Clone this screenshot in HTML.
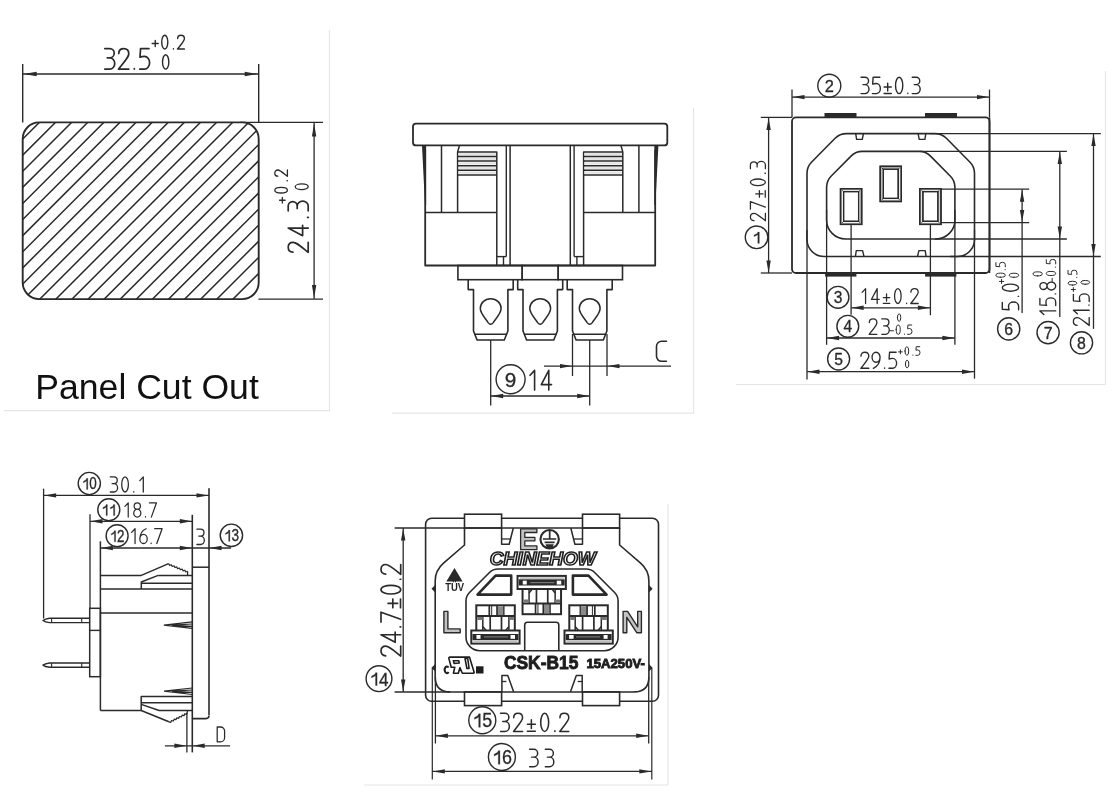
<!DOCTYPE html><html><head><meta charset="utf-8"><style>
html,body{margin:0;padding:0;background:#fff;width:1118px;height:810px;overflow:hidden}
svg{display:block;will-change:transform}
.ns path{vector-effect:non-scaling-stroke}
</style></head><body><svg width="1118" height="810" viewBox="0 0 1118 810"><line x1="329.50" y1="30.00" x2="329.50" y2="411.00" stroke="#e6e6e6" stroke-width="1.2"/>
<line x1="4.00" y1="410.70" x2="330.00" y2="410.70" stroke="#e6e6e6" stroke-width="1.2"/>
<line x1="22.70" y1="64.00" x2="22.70" y2="122.40" stroke="#2a2a2a" stroke-width="1.4"/>
<line x1="258.70" y1="64.00" x2="258.70" y2="122.40" stroke="#2a2a2a" stroke-width="1.4"/>
<line x1="22.70" y1="74.00" x2="258.70" y2="74.00" stroke="#2a2a2a" stroke-width="1.3"/>
<path d="M23.70,74.00 L36.70,71.80 L36.70,76.20 Z" fill="#2a2a2a"/>
<path d="M257.70,74.00 L244.70,76.20 L244.70,71.80 Z" fill="#2a2a2a"/>
<g transform="translate(104.40,69.10)" fill="none" stroke="#2a2a2a" stroke-width="1.70" stroke-linecap="round" stroke-linejoin="round" class="ns"><path transform="translate(0.000,-20.500) scale(20.500)" d="M0.02,0 L0.26,0 A0.22,0.225 0 0 1 0.26,0.45 L0.14,0.45 M0.26,0.45 A0.245,0.275 0 0 1 0.26,1 L0.02,1"/><path transform="translate(14.142,-20.500) scale(20.500)" d="M0.01,0.24 C0.01,0.08 0.12,0 0.25,0 C0.39,0 0.5,0.09 0.5,0.25 C0.5,0.4 0.4,0.5 0,1 L0.5,1"/><path transform="translate(28.283,-20.500) scale(20.500)" d="M0.08,0.97 L0.08,1"/><path transform="translate(34.950,-20.500) scale(20.500)" d="M0.47,0 L0.06,0 L0.03,0.42 C0.1,0.39 0.17,0.38 0.25,0.38 A0.25,0.31 0 0 1 0.25,1 L0.02,1"/></g>
<g transform="translate(152.20,49.00)" fill="none" stroke="#2a2a2a" stroke-width="1.40" stroke-linecap="round" stroke-linejoin="round" class="ns"><path transform="translate(0.000,-13.800) scale(13.800)" d="M0,0.6 L0.44,0.6 M0.22,0.38 L0.22,0.82"/><path transform="translate(9.114,-13.800) scale(13.800)" d="M0.03,0.5 A0.22,0.5 0 0 1 0.47,0.5 A0.22,0.5 0 0 1 0.03,0.5 Z"/><path transform="translate(20.114,-13.800) scale(13.800)" d="M0.08,0.97 L0.08,1"/><path transform="translate(25.300,-13.800) scale(13.800)" d="M0.01,0.24 C0.01,0.08 0.12,0 0.25,0 C0.39,0 0.5,0.09 0.5,0.25 C0.5,0.4 0.4,0.5 0,1 L0.5,1"/></g>
<g transform="translate(162.10,69.10)" fill="none" stroke="#2a2a2a" stroke-width="1.40" stroke-linecap="round" stroke-linejoin="round" class="ns"><path transform="translate(0.000,-14.300) scale(14.300)" d="M0.03,0.5 A0.22,0.5 0 0 1 0.47,0.5 A0.22,0.5 0 0 1 0.03,0.5 Z"/></g>
<clipPath id="cp1"><rect x="22.7" y="122.4" width="236.0" height="176.70000000000002" rx="16.5"/></clipPath>
<path d="M-190.60,304.10 L-3.90,117.40 M-174.50,304.10 L12.20,117.40 M-158.40,304.10 L28.30,117.40 M-142.30,304.10 L44.40,117.40 M-126.20,304.10 L60.50,117.40 M-110.10,304.10 L76.60,117.40 M-94.00,304.10 L92.70,117.40 M-77.90,304.10 L108.80,117.40 M-61.80,304.10 L124.90,117.40 M-45.70,304.10 L141.00,117.40 M-29.60,304.10 L157.10,117.40 M-13.50,304.10 L173.20,117.40 M2.60,304.10 L189.30,117.40 M18.70,304.10 L205.40,117.40 M34.80,304.10 L221.50,117.40 M50.90,304.10 L237.60,117.40 M67.00,304.10 L253.70,117.40 M83.10,304.10 L269.80,117.40 M99.20,304.10 L285.90,117.40 M115.30,304.10 L302.00,117.40 M131.40,304.10 L318.10,117.40 M147.50,304.10 L334.20,117.40 M163.60,304.10 L350.30,117.40 M179.70,304.10 L366.40,117.40 M195.80,304.10 L382.50,117.40 M211.90,304.10 L398.60,117.40 M228.00,304.10 L414.70,117.40 M244.10,304.10 L430.80,117.40 M260.20,304.10 L446.90,117.40" stroke="#2a2a2a" stroke-width="1.5" clip-path="url(#cp1)"/>
<rect x="22.70" y="122.40" width="236.00" height="176.70" rx="16.5" fill="none" stroke="#2a2a2a" stroke-width="1.9"/>
<line x1="240.00" y1="122.40" x2="323.00" y2="122.40" stroke="#2a2a2a" stroke-width="1.4"/>
<line x1="258.40" y1="299.10" x2="323.00" y2="299.10" stroke="#2a2a2a" stroke-width="1.4"/>
<line x1="314.10" y1="122.40" x2="314.10" y2="299.10" stroke="#2a2a2a" stroke-width="1.3"/>
<path d="M314.10,123.40 L316.30,136.40 L311.90,136.40 Z" fill="#2a2a2a"/>
<path d="M314.10,298.10 L311.90,285.10 L316.30,285.10 Z" fill="#2a2a2a"/>
<g transform="translate(308.20,252.30) rotate(-90) translate(0.00,0.00)" fill="none" stroke="#2a2a2a" stroke-width="1.70" stroke-linecap="round" stroke-linejoin="round" class="ns"><path transform="translate(0.000,-20.000) scale(20.000)" d="M0.01,0.24 C0.01,0.08 0.12,0 0.25,0 C0.39,0 0.5,0.09 0.5,0.25 C0.5,0.4 0.4,0.5 0,1 L0.5,1"/><path transform="translate(16.630,-20.000) scale(20.000)" d="M0.38,1 L0.38,0 L0,0.72 L0.52,0.72"/><path transform="translate(33.260,-20.000) scale(20.000)" d="M0.08,0.97 L0.08,1"/><path transform="translate(41.100,-20.000) scale(20.000)" d="M0.02,0 L0.26,0 A0.22,0.225 0 0 1 0.26,0.45 L0.14,0.45 M0.26,0.45 A0.245,0.275 0 0 1 0.26,1 L0.02,1"/></g>
<g transform="translate(287.40,203.00) rotate(-90) translate(0.00,0.00)" fill="none" stroke="#2a2a2a" stroke-width="1.30" stroke-linecap="round" stroke-linejoin="round" class="ns"><path transform="translate(0.000,-12.600) scale(12.600)" d="M0,0.6 L0.44,0.6 M0.22,0.38 L0.22,0.82"/><path transform="translate(9.619,-12.600) scale(12.600)" d="M0.03,0.5 A0.22,0.5 0 0 1 0.47,0.5 A0.22,0.5 0 0 1 0.03,0.5 Z"/><path transform="translate(21.227,-12.600) scale(12.600)" d="M0.08,0.97 L0.08,1"/><path transform="translate(26.700,-12.600) scale(12.600)" d="M0.01,0.24 C0.01,0.08 0.12,0 0.25,0 C0.39,0 0.5,0.09 0.5,0.25 C0.5,0.4 0.4,0.5 0,1 L0.5,1"/></g>
<g transform="translate(308.20,190.00) rotate(-90) translate(0.00,0.00)" fill="none" stroke="#2a2a2a" stroke-width="1.30" stroke-linecap="round" stroke-linejoin="round" class="ns"><path transform="translate(0.000,-13.000) scale(13.000)" d="M0.03,0.5 A0.22,0.5 0 0 1 0.47,0.5 A0.22,0.5 0 0 1 0.03,0.5 Z"/></g>
<text x="35.3" y="398.6" font-family="Liberation Sans" font-size="35.6" fill="#111">Panel Cut Out</text>
<line x1="693.60" y1="108.00" x2="693.60" y2="413.20" stroke="#e6e6e6" stroke-width="1.2"/>
<line x1="392.00" y1="413.20" x2="693.60" y2="413.20" stroke="#e6e6e6" stroke-width="1.2"/>
<rect x="413.00" y="123.60" width="254.30" height="21.80" rx="3" fill="none" stroke="#2a2a2a" stroke-width="1.8"/>
<path d="M425.20,150.00 L425.20,265.50 L655.20,265.50 L655.20,150.00" fill="none" stroke="#2a2a2a" stroke-width="1.8" stroke-linejoin="round"/>
<path d="M422.0,145.4 L426.1,145.4 L426.1,205 L425.0,205 Z" fill="#2a2a2a"/>
<path d="M658.40,145.4 L654.30,145.4 L654.30,205 L655.40,205 Z" fill="#2a2a2a"/>
<line x1="441.50" y1="145.40" x2="441.50" y2="212.50" stroke="#2a2a2a" stroke-width="1.5"/>
<path d="M459.50,145.4 L457.60,152 L457.60,212.5" fill="none" stroke="#2a2a2a" stroke-width="1.5" stroke-linejoin="round"/>
<line x1="425.20" y1="212.50" x2="496.80" y2="212.50" stroke="#2a2a2a" stroke-width="1.5"/>
<path d="M457.60,151.90 L496.80,151.90 L496.80,265.50" fill="none" stroke="#2a2a2a" stroke-width="1.5" stroke-linejoin="round"/>
<line x1="458.50" y1="154.20" x2="496.00" y2="154.20" stroke="#e4e4e4" stroke-width="2.4"/>
<line x1="458.50" y1="158.80" x2="496.00" y2="158.80" stroke="#e4e4e4" stroke-width="2.4"/>
<line x1="458.50" y1="163.40" x2="496.00" y2="163.40" stroke="#e4e4e4" stroke-width="2.4"/>
<line x1="458.50" y1="168.00" x2="496.00" y2="168.00" stroke="#e4e4e4" stroke-width="2.4"/>
<line x1="458.50" y1="172.60" x2="496.00" y2="172.60" stroke="#e4e4e4" stroke-width="2.4"/>
<line x1="457.60" y1="156.50" x2="496.80" y2="156.50" stroke="#2a2a2a" stroke-width="1.5"/>
<line x1="457.60" y1="161.10" x2="496.80" y2="161.10" stroke="#2a2a2a" stroke-width="1.5"/>
<line x1="457.60" y1="165.70" x2="496.80" y2="165.70" stroke="#2a2a2a" stroke-width="1.5"/>
<line x1="457.60" y1="170.30" x2="496.80" y2="170.30" stroke="#2a2a2a" stroke-width="1.5"/>
<line x1="457.60" y1="175.00" x2="496.80" y2="175.00" stroke="#2a2a2a" stroke-width="1.5"/>
<path d="M496.80,256.60 L506.30,256.60" fill="none" stroke="#2a2a2a" stroke-width="1.4" stroke-linejoin="round"/>
<line x1="503.50" y1="256.60" x2="503.50" y2="265.50" stroke="#2a2a2a" stroke-width="1.4"/>
<line x1="506.30" y1="145.40" x2="506.30" y2="256.60" stroke="#2a2a2a" stroke-width="1.4"/>
<line x1="510.10" y1="145.40" x2="510.10" y2="265.50" stroke="#2a2a2a" stroke-width="1.5"/>
<line x1="638.90" y1="145.40" x2="638.90" y2="212.50" stroke="#2a2a2a" stroke-width="1.5"/>
<path d="M620.90,145.4 L622.80,152 L622.80,212.5" fill="none" stroke="#2a2a2a" stroke-width="1.5" stroke-linejoin="round"/>
<line x1="655.20" y1="212.50" x2="583.60" y2="212.50" stroke="#2a2a2a" stroke-width="1.5"/>
<path d="M622.80,151.90 L583.60,151.90 L583.60,265.50" fill="none" stroke="#2a2a2a" stroke-width="1.5" stroke-linejoin="round"/>
<line x1="621.90" y1="154.20" x2="584.40" y2="154.20" stroke="#e4e4e4" stroke-width="2.4"/>
<line x1="621.90" y1="158.80" x2="584.40" y2="158.80" stroke="#e4e4e4" stroke-width="2.4"/>
<line x1="621.90" y1="163.40" x2="584.40" y2="163.40" stroke="#e4e4e4" stroke-width="2.4"/>
<line x1="621.90" y1="168.00" x2="584.40" y2="168.00" stroke="#e4e4e4" stroke-width="2.4"/>
<line x1="621.90" y1="172.60" x2="584.40" y2="172.60" stroke="#e4e4e4" stroke-width="2.4"/>
<line x1="622.80" y1="156.50" x2="583.60" y2="156.50" stroke="#2a2a2a" stroke-width="1.5"/>
<line x1="622.80" y1="161.10" x2="583.60" y2="161.10" stroke="#2a2a2a" stroke-width="1.5"/>
<line x1="622.80" y1="165.70" x2="583.60" y2="165.70" stroke="#2a2a2a" stroke-width="1.5"/>
<line x1="622.80" y1="170.30" x2="583.60" y2="170.30" stroke="#2a2a2a" stroke-width="1.5"/>
<line x1="622.80" y1="175.00" x2="583.60" y2="175.00" stroke="#2a2a2a" stroke-width="1.5"/>
<path d="M583.60,256.60 L574.10,256.60" fill="none" stroke="#2a2a2a" stroke-width="1.4" stroke-linejoin="round"/>
<line x1="576.90" y1="256.60" x2="576.90" y2="265.50" stroke="#2a2a2a" stroke-width="1.4"/>
<line x1="574.10" y1="145.40" x2="574.10" y2="256.60" stroke="#2a2a2a" stroke-width="1.4"/>
<line x1="570.30" y1="145.40" x2="570.30" y2="265.50" stroke="#2a2a2a" stroke-width="1.5"/>
<rect x="457.90" y="265.50" width="64.30" height="14.20" rx="0" fill="none" stroke="#2a2a2a" stroke-width="1.6"/>
<rect x="522.20" y="265.50" width="36.00" height="14.20" rx="0" fill="none" stroke="#2a2a2a" stroke-width="1.6"/>
<rect x="558.20" y="265.50" width="64.30" height="14.20" rx="0" fill="none" stroke="#2a2a2a" stroke-width="1.6"/>
<path d="M468.20,279.70 L468.20,289.60 L473.50,289.60 L473.50,331.00 L477.10,340.00 L504.30,340.00 L507.90,331.00 L507.90,289.60 L513.20,289.60 L513.20,279.70" fill="none" stroke="#2a2a2a" stroke-width="1.6" stroke-linejoin="round"/>
<line x1="474.50" y1="334.30" x2="506.90" y2="334.30" stroke="#2a2a2a" stroke-width="1.4"/>
<path d="M490.70,298.8 C496.70,298.8 501.10,303 501.10,308.6 C501.10,313.5 495.90,318.5 493.30,322.6 Q490.70,325.8 488.10,322.6 C485.50,318.5 480.30,313.5 480.30,308.6 C480.30,303 484.70,298.8 490.70,298.8 Z" fill="none" stroke="#2a2a2a" stroke-width="1.5" stroke-linejoin="round"/>
<path d="M517.70,279.70 L517.70,289.60 L523.00,289.60 L523.00,331.00 L526.60,340.00 L553.80,340.00 L557.40,331.00 L557.40,289.60 L562.70,289.60 L562.70,279.70" fill="none" stroke="#2a2a2a" stroke-width="1.6" stroke-linejoin="round"/>
<line x1="524.00" y1="334.30" x2="556.40" y2="334.30" stroke="#2a2a2a" stroke-width="1.4"/>
<path d="M540.20,298.8 C546.20,298.8 550.60,303 550.60,308.6 C550.60,313.5 545.40,318.5 542.80,322.6 Q540.20,325.8 537.60,322.6 C535.00,318.5 529.80,313.5 529.80,308.6 C529.80,303 534.20,298.8 540.20,298.8 Z" fill="none" stroke="#2a2a2a" stroke-width="1.5" stroke-linejoin="round"/>
<path d="M567.20,279.70 L567.20,289.60 L572.50,289.60 L572.50,331.00 L576.10,340.00 L603.30,340.00 L606.90,331.00 L606.90,289.60 L612.20,289.60 L612.20,279.70" fill="none" stroke="#2a2a2a" stroke-width="1.6" stroke-linejoin="round"/>
<line x1="573.50" y1="334.30" x2="605.90" y2="334.30" stroke="#2a2a2a" stroke-width="1.4"/>
<path d="M589.70,298.8 C595.70,298.8 600.10,303 600.10,308.6 C600.10,313.5 594.90,318.5 592.30,322.6 Q589.70,325.8 587.10,322.6 C584.50,318.5 579.30,313.5 579.30,308.6 C579.30,303 583.70,298.8 589.70,298.8 Z" fill="none" stroke="#2a2a2a" stroke-width="1.5" stroke-linejoin="round"/>
<line x1="490.70" y1="340.00" x2="490.70" y2="405.40" stroke="#2a2a2a" stroke-width="1.3"/>
<line x1="589.70" y1="340.00" x2="589.70" y2="405.40" stroke="#2a2a2a" stroke-width="1.3"/>
<line x1="490.70" y1="396.00" x2="589.70" y2="396.00" stroke="#2a2a2a" stroke-width="1.3"/>
<path d="M491.20,396.00 L503.20,393.80 L503.20,398.20 Z" fill="#2a2a2a"/>
<path d="M589.20,396.00 L577.20,398.20 L577.20,393.80 Z" fill="#2a2a2a"/>
<circle cx="510.60" cy="379.30" r="14.50" fill="none" stroke="#2a2a2a" stroke-width="1.4"/>
<text x="0" y="0" transform="translate(510.60,386.96) scale(1.0,1)" font-family="Liberation Sans" font-size="20.73" text-anchor="middle" fill="#2a2a2a" stroke="#2a2a2a" stroke-width="0.3">9</text>
<g transform="translate(527.50,390.10)" fill="none" stroke="#2a2a2a" stroke-width="1.60" stroke-linecap="round" stroke-linejoin="round" class="ns"><path transform="translate(0.000,-19.700) scale(19.700)" d="M0.13,0.25 L0.36,0 L0.36,1"/><path transform="translate(13.790,-19.700) scale(19.700)" d="M0.38,1 L0.38,0 L0,0.72 L0.52,0.72"/></g>
<line x1="572.50" y1="334.00" x2="572.50" y2="376.00" stroke="#2a2a2a" stroke-width="1.3"/>
<line x1="607.00" y1="334.00" x2="607.00" y2="376.00" stroke="#2a2a2a" stroke-width="1.3"/>
<line x1="544.00" y1="366.10" x2="671.00" y2="366.10" stroke="#2a2a2a" stroke-width="1.3"/>
<path d="M572.00,366.10 L560.00,368.30 L560.00,363.90 Z" fill="#2a2a2a"/>
<path d="M607.50,366.10 L619.50,363.90 L619.50,368.30 Z" fill="#2a2a2a"/>
<g transform="translate(656.50,361.30)" fill="none" stroke="#2a2a2a" stroke-width="1.60" stroke-linecap="round" stroke-linejoin="round" class="ns"><path transform="translate(0.000,-20.000) scale(20.000)" d="M0.5,0 L0.25,0 A0.25,0.25 0 0 0 0,0.25 L0,0.75 A0.25,0.25 0 0 0 0.25,1 L0.5,1"/></g>
<line x1="1105.50" y1="71.00" x2="1105.50" y2="384.50" stroke="#e6e6e6" stroke-width="1.2"/>
<line x1="736.00" y1="384.50" x2="1105.50" y2="384.50" stroke="#e6e6e6" stroke-width="1.2"/>
<rect x="792.00" y="117.40" width="197.50" height="155.60" rx="4" fill="none" stroke="#2a2a2a" stroke-width="1.8"/>
<rect x="824.5" y="113" width="32.0" height="4.4" fill="#2a2a2a"/>
<rect x="925.00" y="113" width="32.0" height="4.4" fill="#2a2a2a"/>
<rect x="825.1" y="273" width="31.3" height="3.6" fill="#2a2a2a"/>
<rect x="925.10" y="273" width="31.3" height="3.6" fill="#2a2a2a"/>
<path d="M846.43,133.6 L935.07,133.6 Q941.70,133.6 946.39,138.29 L969.81,162.01 Q974.5,166.7 974.5,173.33 L974.5,239.50 A17,17 0 0 1 957.50,256.5 L824.00,256.5 A17,17 0 0 1 807.0,239.50 L807.0,173.33 Q807.0,166.7 811.69,162.01 L835.11,138.29 Q839.8,133.6 846.43,133.6 Z" fill="none" stroke="#2a2a2a" stroke-width="1.6" stroke-linejoin="round"/>
<path d="M862.33,151.4 L919.17,151.4 Q925.80,151.4 930.49,156.09 L950.21,176.01 Q954.9,180.7 954.9,187.33 L954.9,220.00 A19,19 0 0 1 935.90,239.0 L845.60,239.0 A19,19 0 0 1 826.6,220.00 L826.6,187.33 Q826.6,180.7 831.29,176.01 L851.01,156.09 Q855.7,151.4 862.33,151.4 Z" fill="none" stroke="#2a2a2a" stroke-width="1.6" stroke-linejoin="round"/>
<path d="M855.70,133.60 L856.60,139.40 L862.30,139.40 L863.40,133.60" fill="none" stroke="#2a2a2a" stroke-width="1.4" stroke-linejoin="round"/>
<path d="M855.40,256.50 L856.30,250.60 L862.60,250.60 L864.00,256.50" fill="none" stroke="#2a2a2a" stroke-width="1.4" stroke-linejoin="round"/>
<path d="M925.80,133.60 L924.90,139.40 L919.20,139.40 L918.10,133.60" fill="none" stroke="#2a2a2a" stroke-width="1.4" stroke-linejoin="round"/>
<path d="M926.10,256.50 L925.20,250.60 L918.90,250.60 L917.50,256.50" fill="none" stroke="#2a2a2a" stroke-width="1.4" stroke-linejoin="round"/>
<rect x="840.60" y="188.80" width="21.00" height="35.50" rx="0" fill="none" stroke="#2a2a2a" stroke-width="1.6"/>
<rect x="843.60" y="191.60" width="15.00" height="29.70" rx="0" fill="none" stroke="#2a2a2a" stroke-width="1.3"/>
<line x1="840.60" y1="188.80" x2="843.60" y2="191.60" stroke="#2a2a2a" stroke-width="1.0"/>
<line x1="861.60" y1="188.80" x2="858.60" y2="191.60" stroke="#2a2a2a" stroke-width="1.0"/>
<line x1="840.60" y1="224.30" x2="843.60" y2="221.30" stroke="#2a2a2a" stroke-width="1.0"/>
<line x1="861.60" y1="224.30" x2="858.60" y2="221.30" stroke="#2a2a2a" stroke-width="1.0"/>
<rect x="841.40" y="189.60" width="19.40" height="33.90" fill="none" stroke="#bbb" stroke-width="1.4"/>
<rect x="840.60" y="188.80" width="21.00" height="35.50" rx="0" fill="none" stroke="#2a2a2a" stroke-width="1.5"/>
<rect x="843.60" y="191.60" width="15.00" height="29.70" rx="0" fill="none" stroke="#2a2a2a" stroke-width="1.2"/>
<rect x="919.90" y="188.80" width="21.00" height="35.50" rx="0" fill="none" stroke="#2a2a2a" stroke-width="1.6"/>
<rect x="922.90" y="191.60" width="15.00" height="29.70" rx="0" fill="none" stroke="#2a2a2a" stroke-width="1.3"/>
<line x1="919.90" y1="188.80" x2="922.90" y2="191.60" stroke="#2a2a2a" stroke-width="1.0"/>
<line x1="940.90" y1="188.80" x2="937.90" y2="191.60" stroke="#2a2a2a" stroke-width="1.0"/>
<line x1="919.90" y1="224.30" x2="922.90" y2="221.30" stroke="#2a2a2a" stroke-width="1.0"/>
<line x1="940.90" y1="224.30" x2="937.90" y2="221.30" stroke="#2a2a2a" stroke-width="1.0"/>
<rect x="920.70" y="189.60" width="19.40" height="33.90" fill="none" stroke="#bbb" stroke-width="1.4"/>
<rect x="919.90" y="188.80" width="21.00" height="35.50" rx="0" fill="none" stroke="#2a2a2a" stroke-width="1.5"/>
<rect x="922.90" y="191.60" width="15.00" height="29.70" rx="0" fill="none" stroke="#2a2a2a" stroke-width="1.2"/>
<rect x="880.30" y="166.40" width="20.90" height="35.00" rx="0" fill="none" stroke="#2a2a2a" stroke-width="1.6"/>
<rect x="883.30" y="169.20" width="14.90" height="29.20" rx="0" fill="none" stroke="#2a2a2a" stroke-width="1.3"/>
<line x1="880.30" y1="166.40" x2="883.30" y2="169.20" stroke="#2a2a2a" stroke-width="1.0"/>
<line x1="901.20" y1="166.40" x2="898.20" y2="169.20" stroke="#2a2a2a" stroke-width="1.0"/>
<line x1="880.30" y1="201.40" x2="883.30" y2="198.40" stroke="#2a2a2a" stroke-width="1.0"/>
<line x1="901.20" y1="201.40" x2="898.20" y2="198.40" stroke="#2a2a2a" stroke-width="1.0"/>
<rect x="881.10" y="167.20" width="19.30" height="33.40" fill="none" stroke="#bbb" stroke-width="1.4"/>
<rect x="880.30" y="166.40" width="20.90" height="35.00" rx="0" fill="none" stroke="#2a2a2a" stroke-width="1.5"/>
<rect x="883.30" y="169.20" width="14.90" height="29.20" rx="0" fill="none" stroke="#2a2a2a" stroke-width="1.2"/>
<line x1="792.00" y1="89.60" x2="792.00" y2="117.40" stroke="#2a2a2a" stroke-width="1.3"/>
<line x1="989.50" y1="89.60" x2="989.50" y2="117.40" stroke="#2a2a2a" stroke-width="1.3"/>
<line x1="792.00" y1="97.10" x2="989.50" y2="97.10" stroke="#2a2a2a" stroke-width="1.3"/>
<path d="M792.50,97.10 L804.50,94.90 L804.50,99.30 Z" fill="#2a2a2a"/>
<path d="M989.00,97.10 L977.00,99.30 L977.00,94.90 Z" fill="#2a2a2a"/>
<circle cx="829.30" cy="85.70" r="11.50" fill="none" stroke="#2a2a2a" stroke-width="1.4"/>
<text x="0" y="0" transform="translate(829.30,91.86) scale(1.0,1)" font-family="Liberation Sans" font-size="16.45" text-anchor="middle" fill="#2a2a2a" stroke="#2a2a2a" stroke-width="0.3">2</text>
<g transform="translate(860.70,93.60)" fill="none" stroke="#2a2a2a" stroke-width="1.39" stroke-linecap="round" stroke-linejoin="round" class="ns"><path transform="translate(0.000,-16.400) scale(16.400)" d="M0.02,0 L0.26,0 A0.22,0.225 0 0 1 0.26,0.45 L0.14,0.45 M0.26,0.45 A0.245,0.275 0 0 1 0.26,1 L0.02,1"/><path transform="translate(11.450,-16.400) scale(16.400)" d="M0.47,0 L0.06,0 L0.03,0.42 C0.1,0.39 0.17,0.38 0.25,0.38 A0.25,0.31 0 0 1 0.25,1 L0.02,1"/><path transform="translate(22.901,-16.400) scale(16.400)" d="M0.03,0.6 L0.47,0.6 M0.25,0.36 L0.25,0.84 M0.03,0.99 L0.47,0.99"/><path transform="translate(34.351,-16.400) scale(16.400)" d="M0.03,0.5 A0.22,0.5 0 0 1 0.47,0.5 A0.22,0.5 0 0 1 0.03,0.5 Z"/><path transform="translate(45.802,-16.400) scale(16.400)" d="M0.08,0.97 L0.08,1"/><path transform="translate(51.200,-16.400) scale(16.400)" d="M0.02,0 L0.26,0 A0.22,0.225 0 0 1 0.26,0.45 L0.14,0.45 M0.26,0.45 A0.245,0.275 0 0 1 0.26,1 L0.02,1"/></g>
<line x1="760.80" y1="117.40" x2="792.00" y2="117.40" stroke="#2a2a2a" stroke-width="1.3"/>
<line x1="760.80" y1="273.00" x2="792.00" y2="273.00" stroke="#2a2a2a" stroke-width="1.3"/>
<line x1="768.60" y1="117.40" x2="768.60" y2="273.00" stroke="#2a2a2a" stroke-width="1.3"/>
<path d="M768.60,117.90 L770.80,129.90 L766.40,129.90 Z" fill="#2a2a2a"/>
<path d="M768.60,272.50 L766.40,260.50 L770.80,260.50 Z" fill="#2a2a2a"/>
<g transform="translate(765.40,220.80) rotate(-90) translate(0.00,0.00)" fill="none" stroke="#2a2a2a" stroke-width="1.28" stroke-linecap="round" stroke-linejoin="round" class="ns"><path transform="translate(0.000,-15.000) scale(15.000)" d="M0.01,0.24 C0.01,0.08 0.12,0 0.25,0 C0.39,0 0.5,0.09 0.5,0.25 C0.5,0.4 0.4,0.5 0,1 L0.5,1"/><path transform="translate(11.585,-15.000) scale(15.000)" d="M0,0 L0.5,0 L0.14,1"/><path transform="translate(23.169,-15.000) scale(15.000)" d="M0.03,0.6 L0.47,0.6 M0.25,0.36 L0.25,0.84 M0.03,0.99 L0.47,0.99"/><path transform="translate(34.754,-15.000) scale(15.000)" d="M0.03,0.5 A0.22,0.5 0 0 1 0.47,0.5 A0.22,0.5 0 0 1 0.03,0.5 Z"/><path transform="translate(46.339,-15.000) scale(15.000)" d="M0.08,0.97 L0.08,1"/><path transform="translate(51.800,-15.000) scale(15.000)" d="M0.02,0 L0.26,0 A0.22,0.225 0 0 1 0.26,0.45 L0.14,0.45 M0.26,0.45 A0.245,0.275 0 0 1 0.26,1 L0.02,1"/></g>
<circle cx="756.60" cy="237.30" r="11.30" fill="none" stroke="#2a2a2a" stroke-width="1.4"/>
<path d="M757.84,232.04 L759.30,232.04 L759.30,243.36 L757.84,243.36 L757.84,234.47 L756.96,235.28 L754.05,236.57 L754.05,235.11 L756.96,233.66 L757.60,232.69 Z" fill="#2a2a2a" stroke="#2a2a2a" stroke-width="0.3"/>
<line x1="930.00" y1="133.60" x2="1100.80" y2="133.60" stroke="#2a2a2a" stroke-width="1.3"/>
<line x1="920.00" y1="151.40" x2="1066.90" y2="151.40" stroke="#2a2a2a" stroke-width="1.3"/>
<line x1="940.90" y1="189.20" x2="1029.20" y2="189.20" stroke="#2a2a2a" stroke-width="1.3"/>
<line x1="940.90" y1="222.60" x2="1029.20" y2="222.60" stroke="#2a2a2a" stroke-width="1.3"/>
<line x1="935.00" y1="239.00" x2="1066.90" y2="239.00" stroke="#2a2a2a" stroke-width="1.3"/>
<line x1="950.00" y1="256.50" x2="1100.80" y2="256.50" stroke="#2a2a2a" stroke-width="1.3"/>
<line x1="989.50" y1="117.40" x2="989.50" y2="273.00" stroke="#2a2a2a" stroke-width="1.6"/>
<line x1="1022.10" y1="189.20" x2="1022.10" y2="313.10" stroke="#2a2a2a" stroke-width="1.3"/>
<path d="M1022.10,189.70 L1024.30,201.70 L1019.90,201.70 Z" fill="#2a2a2a"/>
<path d="M1022.10,222.10 L1019.90,210.10 L1024.30,210.10 Z" fill="#2a2a2a"/>
<line x1="1059.80" y1="151.40" x2="1059.80" y2="316.90" stroke="#2a2a2a" stroke-width="1.3"/>
<path d="M1059.80,151.90 L1062.00,163.90 L1057.60,163.90 Z" fill="#2a2a2a"/>
<path d="M1059.80,238.50 L1057.60,226.50 L1062.00,226.50 Z" fill="#2a2a2a"/>
<line x1="1093.50" y1="133.60" x2="1093.50" y2="328.90" stroke="#2a2a2a" stroke-width="1.3"/>
<path d="M1093.50,134.10 L1095.70,146.10 L1091.30,146.10 Z" fill="#2a2a2a"/>
<path d="M1093.50,256.00 L1091.30,244.00 L1095.70,244.00 Z" fill="#2a2a2a"/>
<circle cx="1008.70" cy="328.90" r="11.10" fill="none" stroke="#2a2a2a" stroke-width="1.4"/>
<text x="0" y="0" transform="translate(1008.70,334.86) scale(1.0,1)" font-family="Liberation Sans" font-size="15.87" text-anchor="middle" fill="#2a2a2a" stroke="#2a2a2a" stroke-width="0.3">6</text>
<g transform="translate(1018.60,310.20) rotate(-90) translate(0.00,0.00)" fill="none" stroke="#2a2a2a" stroke-width="1.39" stroke-linecap="round" stroke-linejoin="round" class="ns"><path transform="translate(0.000,-16.300) scale(16.300)" d="M0.47,0 L0.06,0 L0.03,0.42 C0.1,0.39 0.17,0.38 0.25,0.38 A0.25,0.31 0 0 1 0.25,1 L0.02,1"/><path transform="translate(12.539,-16.300) scale(16.300)" d="M0.08,0.97 L0.08,1"/><path transform="translate(18.450,-16.300) scale(16.300)" d="M0.03,0.5 A0.22,0.5 0 0 1 0.47,0.5 A0.22,0.5 0 0 1 0.03,0.5 Z"/></g>
<g transform="translate(1005.30,283.50) rotate(-90) translate(0.00,0.00)" fill="none" stroke="#2a2a2a" stroke-width="1.00" stroke-linecap="round" stroke-linejoin="round" class="ns"><path transform="translate(0.000,-9.400) scale(9.400)" d="M0,0.6 L0.44,0.6 M0.22,0.38 L0.22,0.82"/><path transform="translate(5.944,-9.400) scale(9.400)" d="M0.03,0.5 A0.22,0.5 0 0 1 0.47,0.5 A0.22,0.5 0 0 1 0.03,0.5 Z"/><path transform="translate(13.118,-9.400) scale(9.400)" d="M0.08,0.97 L0.08,1"/><path transform="translate(16.500,-9.400) scale(9.400)" d="M0.47,0 L0.06,0 L0.03,0.42 C0.1,0.39 0.17,0.38 0.25,0.38 A0.25,0.31 0 0 1 0.25,1 L0.02,1"/></g>
<g transform="translate(1018.60,277.60) rotate(-90) translate(0.00,0.00)" fill="none" stroke="#2a2a2a" stroke-width="1.00" stroke-linecap="round" stroke-linejoin="round" class="ns"><path transform="translate(0.000,-9.300) scale(9.300)" d="M0.03,0.5 A0.22,0.5 0 0 1 0.47,0.5 A0.22,0.5 0 0 1 0.03,0.5 Z"/></g>
<g transform="translate(1055.70,314.70) rotate(-90) translate(-1.90,0.00)" fill="none" stroke="#2a2a2a" stroke-width="1.34" stroke-linecap="round" stroke-linejoin="round" class="ns"><path transform="translate(0.000,-15.800) scale(15.800)" d="M0.13,0.25 L0.36,0 L0.36,1"/><path transform="translate(10.761,-15.800) scale(15.800)" d="M0.47,0 L0.06,0 L0.03,0.42 C0.1,0.39 0.17,0.38 0.25,0.38 A0.25,0.31 0 0 1 0.25,1 L0.02,1"/><path transform="translate(21.523,-15.800) scale(15.800)" d="M0.08,0.97 L0.08,1"/><path transform="translate(26.596,-15.800) scale(15.800)" d="M0.25,0.45 A0.22,0.225 0 1 1 0.25,0 A0.22,0.225 0 1 1 0.25,0.45 A0.25,0.275 0 1 1 0.25,1 A0.25,0.275 0 1 1 0.25,0.45 Z"/></g>
<g transform="translate(1055.70,282.10) rotate(-90) translate(0.00,0.00)" fill="none" stroke="#2a2a2a" stroke-width="1.00" stroke-linecap="round" stroke-linejoin="round" class="ns"><path transform="translate(0.000,-9.400) scale(9.400)" d="M0,0.62 L0.4,0.62"/><path transform="translate(6.266,-9.400) scale(9.400)" d="M0.03,0.5 A0.22,0.5 0 0 1 0.47,0.5 A0.22,0.5 0 0 1 0.03,0.5 Z"/><path transform="translate(14.241,-9.400) scale(9.400)" d="M0.08,0.97 L0.08,1"/><path transform="translate(18.000,-9.400) scale(9.400)" d="M0.47,0 L0.06,0 L0.03,0.42 C0.1,0.39 0.17,0.38 0.25,0.38 A0.25,0.31 0 0 1 0.25,1 L0.02,1"/></g>
<g transform="translate(1042.30,276.20) rotate(-90) translate(0.00,0.00)" fill="none" stroke="#2a2a2a" stroke-width="1.00" stroke-linecap="round" stroke-linejoin="round" class="ns"><path transform="translate(0.000,-9.300) scale(9.300)" d="M0.03,0.5 A0.22,0.5 0 0 1 0.47,0.5 A0.22,0.5 0 0 1 0.03,0.5 Z"/></g>
<g transform="translate(1089.20,325.50) rotate(-90) translate(0.00,0.00)" fill="none" stroke="#2a2a2a" stroke-width="1.34" stroke-linecap="round" stroke-linejoin="round" class="ns"><path transform="translate(0.000,-15.800) scale(15.800)" d="M0.01,0.24 C0.01,0.08 0.12,0 0.25,0 C0.39,0 0.5,0.09 0.5,0.25 C0.5,0.4 0.4,0.5 0,1 L0.5,1"/><path transform="translate(9.590,-15.800) scale(15.800)" d="M0.13,0.25 L0.36,0 L0.36,1"/><path transform="translate(19.179,-15.800) scale(15.800)" d="M0.08,0.97 L0.08,1"/><path transform="translate(23.700,-15.800) scale(15.800)" d="M0.47,0 L0.06,0 L0.03,0.42 C0.1,0.39 0.17,0.38 0.25,0.38 A0.25,0.31 0 0 1 0.25,1 L0.02,1"/></g>
<g transform="translate(1076.90,291.50) rotate(-90) translate(0.00,0.00)" fill="none" stroke="#2a2a2a" stroke-width="1.00" stroke-linecap="round" stroke-linejoin="round" class="ns"><path transform="translate(0.000,-8.900) scale(8.900)" d="M0,0.6 L0.44,0.6 M0.22,0.38 L0.22,0.82"/><path transform="translate(6.070,-8.900) scale(8.900)" d="M0.03,0.5 A0.22,0.5 0 0 1 0.47,0.5 A0.22,0.5 0 0 1 0.03,0.5 Z"/><path transform="translate(13.396,-8.900) scale(8.900)" d="M0.08,0.97 L0.08,1"/><path transform="translate(16.850,-8.900) scale(8.900)" d="M0.47,0 L0.06,0 L0.03,0.42 C0.1,0.39 0.17,0.38 0.25,0.38 A0.25,0.31 0 0 1 0.25,1 L0.02,1"/></g>
<g transform="translate(1089.70,284.60) rotate(-90) translate(0.00,0.00)" fill="none" stroke="#2a2a2a" stroke-width="1.00" stroke-linecap="round" stroke-linejoin="round" class="ns"><path transform="translate(0.000,-8.900) scale(8.900)" d="M0.03,0.5 A0.22,0.5 0 0 1 0.47,0.5 A0.22,0.5 0 0 1 0.03,0.5 Z"/></g>
<circle cx="1048.10" cy="332.60" r="11.10" fill="none" stroke="#2a2a2a" stroke-width="1.4"/>
<text x="0" y="0" transform="translate(1048.10,338.56) scale(1.0,1)" font-family="Liberation Sans" font-size="15.87" text-anchor="middle" fill="#2a2a2a" stroke="#2a2a2a" stroke-width="0.3">7</text>
<circle cx="1081.50" cy="342.80" r="11.10" fill="none" stroke="#2a2a2a" stroke-width="1.4"/>
<text x="0" y="0" transform="translate(1081.50,348.76) scale(1.0,1)" font-family="Liberation Sans" font-size="15.87" text-anchor="middle" fill="#2a2a2a" stroke="#2a2a2a" stroke-width="0.3">8</text>
<line x1="851.10" y1="224.30" x2="851.10" y2="314.80" stroke="#2a2a2a" stroke-width="1.3"/>
<line x1="930.40" y1="224.30" x2="930.40" y2="315.20" stroke="#2a2a2a" stroke-width="1.3"/>
<line x1="851.10" y1="307.80" x2="930.40" y2="307.80" stroke="#2a2a2a" stroke-width="1.3"/>
<path d="M851.60,307.80 L863.60,305.60 L863.60,310.00 Z" fill="#2a2a2a"/>
<path d="M929.90,307.80 L917.90,310.00 L917.90,305.60 Z" fill="#2a2a2a"/>
<circle cx="838.00" cy="297.30" r="10.90" fill="none" stroke="#2a2a2a" stroke-width="1.4"/>
<text x="0" y="0" transform="translate(838.00,303.16) scale(1.0,1)" font-family="Liberation Sans" font-size="15.59" text-anchor="middle" fill="#2a2a2a" stroke="#2a2a2a" stroke-width="0.3">3</text>
<g transform="translate(860.21,303.50)" fill="none" stroke="#2a2a2a" stroke-width="1.27" stroke-linecap="round" stroke-linejoin="round" class="ns"><path transform="translate(0.000,-14.900) scale(14.900)" d="M0.13,0.25 L0.36,0 L0.36,1"/><path transform="translate(11.302,-14.900) scale(14.900)" d="M0.38,1 L0.38,0 L0,0.72 L0.52,0.72"/><path transform="translate(22.605,-14.900) scale(14.900)" d="M0.03,0.6 L0.47,0.6 M0.25,0.36 L0.25,0.84 M0.03,0.99 L0.47,0.99"/><path transform="translate(33.907,-14.900) scale(14.900)" d="M0.03,0.5 A0.22,0.5 0 0 1 0.47,0.5 A0.22,0.5 0 0 1 0.03,0.5 Z"/><path transform="translate(45.210,-14.900) scale(14.900)" d="M0.08,0.97 L0.08,1"/><path transform="translate(50.538,-14.900) scale(14.900)" d="M0.01,0.24 C0.01,0.08 0.12,0 0.25,0 C0.39,0 0.5,0.09 0.5,0.25 C0.5,0.4 0.4,0.5 0,1 L0.5,1"/></g>
<line x1="826.60" y1="210.00" x2="826.60" y2="344.80" stroke="#2a2a2a" stroke-width="1.3"/>
<line x1="954.90" y1="210.00" x2="954.90" y2="344.80" stroke="#2a2a2a" stroke-width="1.3"/>
<line x1="826.60" y1="338.00" x2="954.90" y2="338.00" stroke="#2a2a2a" stroke-width="1.3"/>
<path d="M827.10,338.00 L839.10,335.80 L839.10,340.20 Z" fill="#2a2a2a"/>
<path d="M954.40,338.00 L942.40,340.20 L942.40,335.80 Z" fill="#2a2a2a"/>
<circle cx="847.80" cy="326.30" r="10.90" fill="none" stroke="#2a2a2a" stroke-width="1.4"/>
<text x="0" y="0" transform="translate(847.80,332.16) scale(1.0,1)" font-family="Liberation Sans" font-size="15.59" text-anchor="middle" fill="#2a2a2a" stroke="#2a2a2a" stroke-width="0.3">4</text>
<g transform="translate(869.20,334.30)" fill="none" stroke="#2a2a2a" stroke-width="1.31" stroke-linecap="round" stroke-linejoin="round" class="ns"><path transform="translate(0.000,-15.400) scale(15.400)" d="M0.01,0.24 C0.01,0.08 0.12,0 0.25,0 C0.39,0 0.5,0.09 0.5,0.25 C0.5,0.4 0.4,0.5 0,1 L0.5,1"/><path transform="translate(12.300,-15.400) scale(15.400)" d="M0.02,0 L0.26,0 A0.22,0.225 0 0 1 0.26,0.45 L0.14,0.45 M0.26,0.45 A0.245,0.275 0 0 1 0.26,1 L0.02,1"/></g>
<g transform="translate(889.80,334.30)" fill="none" stroke="#2a2a2a" stroke-width="1.00" stroke-linecap="round" stroke-linejoin="round" class="ns"><path transform="translate(0.000,-9.300) scale(9.300)" d="M0,0.62 L0.4,0.62"/><path transform="translate(6.109,-9.300) scale(9.300)" d="M0.03,0.5 A0.22,0.5 0 0 1 0.47,0.5 A0.22,0.5 0 0 1 0.03,0.5 Z"/><path transform="translate(13.884,-9.300) scale(9.300)" d="M0.08,0.97 L0.08,1"/><path transform="translate(17.550,-9.300) scale(9.300)" d="M0.47,0 L0.06,0 L0.03,0.42 C0.1,0.39 0.17,0.38 0.25,0.38 A0.25,0.31 0 0 1 0.25,1 L0.02,1"/></g>
<g transform="translate(897.20,321.40)" fill="none" stroke="#2a2a2a" stroke-width="1.00" stroke-linecap="round" stroke-linejoin="round" class="ns"><path transform="translate(0.000,-7.600) scale(7.600)" d="M0.03,0.5 A0.22,0.5 0 0 1 0.47,0.5 A0.22,0.5 0 0 1 0.03,0.5 Z"/></g>
<line x1="807.00" y1="230.00" x2="807.00" y2="379.50" stroke="#2a2a2a" stroke-width="1.3"/>
<line x1="974.50" y1="230.00" x2="974.50" y2="378.70" stroke="#2a2a2a" stroke-width="1.3"/>
<line x1="807.00" y1="371.70" x2="974.50" y2="371.70" stroke="#2a2a2a" stroke-width="1.3"/>
<path d="M807.50,371.70 L819.50,369.50 L819.50,373.90 Z" fill="#2a2a2a"/>
<path d="M974.00,371.70 L962.00,373.90 L962.00,369.50 Z" fill="#2a2a2a"/>
<circle cx="838.60" cy="359.00" r="11.00" fill="none" stroke="#2a2a2a" stroke-width="1.4"/>
<text x="0" y="0" transform="translate(838.60,364.91) scale(1.0,1)" font-family="Liberation Sans" font-size="15.73" text-anchor="middle" fill="#2a2a2a" stroke="#2a2a2a" stroke-width="0.3">5</text>
<g transform="translate(860.80,368.30)" fill="none" stroke="#2a2a2a" stroke-width="1.36" stroke-linecap="round" stroke-linejoin="round" class="ns"><path transform="translate(0.000,-16.000) scale(16.000)" d="M0.01,0.24 C0.01,0.08 0.12,0 0.25,0 C0.39,0 0.5,0.09 0.5,0.25 C0.5,0.4 0.4,0.5 0,1 L0.5,1"/><path transform="translate(11.249,-16.000) scale(16.000)" d="M0.08,1 C0.34,0.88 0.5,0.62 0.5,0.31 A0.25,0.31 0 0 0 0,0.31 A0.25,0.31 0 0 0 0.5,0.31"/><path transform="translate(22.497,-16.000) scale(16.000)" d="M0.08,0.97 L0.08,1"/><path transform="translate(27.800,-16.000) scale(16.000)" d="M0.47,0 L0.06,0 L0.03,0.42 C0.1,0.39 0.17,0.38 0.25,0.38 A0.25,0.31 0 0 1 0.25,1 L0.02,1"/></g>
<g transform="translate(898.50,355.30)" fill="none" stroke="#2a2a2a" stroke-width="1.00" stroke-linecap="round" stroke-linejoin="round" class="ns"><path transform="translate(0.000,-8.600) scale(8.600)" d="M0,0.6 L0.44,0.6 M0.22,0.38 L0.22,0.82"/><path transform="translate(6.196,-8.600) scale(8.600)" d="M0.03,0.5 A0.22,0.5 0 0 1 0.47,0.5 A0.22,0.5 0 0 1 0.03,0.5 Z"/><path transform="translate(13.675,-8.600) scale(8.600)" d="M0.08,0.97 L0.08,1"/><path transform="translate(17.200,-8.600) scale(8.600)" d="M0.47,0 L0.06,0 L0.03,0.42 C0.1,0.39 0.17,0.38 0.25,0.38 A0.25,0.31 0 0 1 0.25,1 L0.02,1"/></g>
<g transform="translate(905.20,367.90)" fill="none" stroke="#2a2a2a" stroke-width="1.00" stroke-linecap="round" stroke-linejoin="round" class="ns"><path transform="translate(0.000,-7.700) scale(7.700)" d="M0.03,0.5 A0.22,0.5 0 0 1 0.47,0.5 A0.22,0.5 0 0 1 0.03,0.5 Z"/></g>
<line x1="43.60" y1="488.70" x2="43.60" y2="618.50" stroke="#2a2a2a" stroke-width="1.3"/>
<line x1="209.00" y1="488.30" x2="209.00" y2="715.00" stroke="#2a2a2a" stroke-width="1.6"/>
<line x1="43.60" y1="495.40" x2="209.00" y2="495.40" stroke="#2a2a2a" stroke-width="1.3"/>
<path d="M44.10,495.40 L56.10,493.20 L56.10,497.60 Z" fill="#2a2a2a"/>
<path d="M208.50,495.40 L196.50,497.60 L196.50,493.20 Z" fill="#2a2a2a"/>
<circle cx="89.30" cy="483.50" r="11.10" fill="none" stroke="#2a2a2a" stroke-width="1.4"/>
<path d="M86.59,478.34 L87.80,478.34 L87.80,489.46 L86.59,489.46 L86.59,480.73 L85.85,481.52 L83.42,482.79 L83.42,481.36 L85.85,479.93 L86.39,478.98 Z" fill="#2a2a2a" stroke="#2a2a2a" stroke-width="0.3"/>
<text x="0" y="0" transform="translate(93.05,489.46) scale(0.85,1)" font-family="Liberation Sans" font-size="15.87" text-anchor="middle" fill="#2a2a2a" stroke="#2a2a2a" stroke-width="0.3">0</text>
<g transform="translate(110.00,492.00)" fill="none" stroke="#2a2a2a" stroke-width="1.28" stroke-linecap="round" stroke-linejoin="round" class="ns"><path transform="translate(0.000,-15.100) scale(15.100)" d="M0.02,0 L0.26,0 A0.22,0.225 0 0 1 0.26,0.45 L0.14,0.45 M0.26,0.45 A0.245,0.275 0 0 1 0.26,1 L0.02,1"/><path transform="translate(11.274,-15.100) scale(15.100)" d="M0.03,0.5 A0.22,0.5 0 0 1 0.47,0.5 A0.22,0.5 0 0 1 0.03,0.5 Z"/><path transform="translate(22.549,-15.100) scale(15.100)" d="M0.08,0.97 L0.08,1"/><path transform="translate(27.864,-15.100) scale(15.100)" d="M0.13,0.25 L0.36,0 L0.36,1"/></g>
<line x1="90.00" y1="514.20" x2="90.00" y2="608.30" stroke="#2a2a2a" stroke-width="1.3"/>
<line x1="192.30" y1="514.80" x2="192.30" y2="752.40" stroke="#2a2a2a" stroke-width="1.6"/>
<line x1="90.00" y1="521.30" x2="192.30" y2="521.30" stroke="#2a2a2a" stroke-width="1.3"/>
<path d="M90.50,521.30 L102.50,519.10 L102.50,523.50 Z" fill="#2a2a2a"/>
<path d="M191.80,521.30 L179.80,523.50 L179.80,519.10 Z" fill="#2a2a2a"/>
<circle cx="108.80" cy="509.70" r="11.00" fill="none" stroke="#2a2a2a" stroke-width="1.4"/>
<path d="M106.11,504.59 L107.32,504.59 L107.32,515.61 L106.11,515.61 L106.11,506.95 L105.38,507.74 L102.97,509.00 L102.97,507.58 L105.38,506.17 L105.91,505.22 Z" fill="#2a2a2a" stroke="#2a2a2a" stroke-width="0.3"/>
<path d="M113.55,504.59 L114.75,504.59 L114.75,515.61 L113.55,515.61 L113.55,506.95 L112.81,507.74 L110.40,509.00 L110.40,507.58 L112.81,506.17 L113.35,505.22 Z" fill="#2a2a2a" stroke="#2a2a2a" stroke-width="0.3"/>
<g transform="translate(123.08,517.10)" fill="none" stroke="#2a2a2a" stroke-width="1.22" stroke-linecap="round" stroke-linejoin="round" class="ns"><path transform="translate(0.000,-14.300) scale(14.300)" d="M0.13,0.25 L0.36,0 L0.36,1"/><path transform="translate(10.628,-14.300) scale(14.300)" d="M0.25,0.45 A0.22,0.225 0 1 1 0.25,0 A0.22,0.225 0 1 1 0.25,0.45 A0.25,0.275 0 1 1 0.25,1 A0.25,0.275 0 1 1 0.25,0.45 Z"/><path transform="translate(21.256,-14.300) scale(14.300)" d="M0.08,0.97 L0.08,1"/><path transform="translate(26.266,-14.300) scale(14.300)" d="M0,0 L0.5,0 L0.14,1"/></g>
<line x1="100.40" y1="541.30" x2="100.40" y2="710.50" stroke="#2a2a2a" stroke-width="1.5"/>
<line x1="100.40" y1="548.00" x2="231.10" y2="548.00" stroke="#2a2a2a" stroke-width="1.3"/>
<path d="M100.90,548.00 L112.90,545.80 L112.90,550.20 Z" fill="#2a2a2a"/>
<path d="M191.80,548.00 L179.80,550.20 L179.80,545.80 Z" fill="#2a2a2a"/>
<path d="M209.50,548.00 L221.50,545.80 L221.50,550.20 Z" fill="#2a2a2a"/>
<circle cx="117.10" cy="535.80" r="11.00" fill="none" stroke="#2a2a2a" stroke-width="1.4"/>
<path d="M114.41,530.69 L115.62,530.69 L115.62,541.71 L114.41,541.71 L114.41,533.05 L113.68,533.84 L111.27,535.10 L111.27,533.68 L113.68,532.27 L114.21,531.32 Z" fill="#2a2a2a" stroke="#2a2a2a" stroke-width="0.3"/>
<text x="0" y="0" transform="translate(120.82,541.71) scale(0.85,1)" font-family="Liberation Sans" font-size="15.73" text-anchor="middle" fill="#2a2a2a" stroke="#2a2a2a" stroke-width="0.3">2</text>
<g transform="translate(129.72,543.50)" fill="none" stroke="#2a2a2a" stroke-width="1.26" stroke-linecap="round" stroke-linejoin="round" class="ns"><path transform="translate(0.000,-14.800) scale(14.800)" d="M0.13,0.25 L0.36,0 L0.36,1"/><path transform="translate(10.106,-14.800) scale(14.800)" d="M0.42,0 C0.16,0.12 0,0.38 0,0.69 A0.25,0.31 0 0 0 0.5,0.69 A0.25,0.31 0 0 0 0,0.69"/><path transform="translate(20.212,-14.800) scale(14.800)" d="M0.08,0.97 L0.08,1"/><path transform="translate(24.976,-14.800) scale(14.800)" d="M0,0 L0.5,0 L0.14,1"/></g>
<g transform="translate(196.60,544.50)" fill="none" stroke="#2a2a2a" stroke-width="1.30" stroke-linecap="round" stroke-linejoin="round" class="ns"><path transform="translate(0.000,-15.300) scale(15.300)" d="M0.02,0 L0.26,0 A0.22,0.225 0 0 1 0.26,0.45 L0.14,0.45 M0.26,0.45 A0.245,0.275 0 0 1 0.26,1 L0.02,1"/></g>
<circle cx="231.40" cy="535.30" r="11.20" fill="none" stroke="#2a2a2a" stroke-width="1.4"/>
<path d="M228.66,530.09 L229.89,530.09 L229.89,541.31 L228.66,541.31 L228.66,532.50 L227.91,533.30 L225.46,534.58 L225.46,533.14 L227.91,531.70 L228.46,530.74 Z" fill="#2a2a2a" stroke="#2a2a2a" stroke-width="0.3"/>
<text x="0" y="0" transform="translate(235.18,541.31) scale(0.85,1)" font-family="Liberation Sans" font-size="16.02" text-anchor="middle" fill="#2a2a2a" stroke="#2a2a2a" stroke-width="0.3">3</text>
<line x1="192.30" y1="567.20" x2="209.00" y2="567.20" stroke="#2a2a2a" stroke-width="1.5"/>
<path d="M192.3,718.6 L206,718.6 Q209,718.6 209,715.6" fill="none" stroke="#2a2a2a" stroke-width="1.6" stroke-linejoin="round"/>
<path d="M100.40,575.40 L141.30,575.40 L168.60,563.60" fill="none" stroke="#2a2a2a" stroke-width="1.5" stroke-linejoin="round"/>
<path d="M168.60,563.60 L169.47,565.35 L171.31,564.70 L172.18,566.45 L174.03,565.80 L174.90,567.55 L176.74,566.90 L177.61,568.65 L179.46,568.00 L180.33,569.75 L182.17,569.10 L183.04,570.85 L184.89,570.20 L185.75,571.95 L187.60,571.30" fill="none" stroke="#2a2a2a" stroke-width="1.2" stroke-linejoin="round"/>
<line x1="187.60" y1="571.30" x2="187.60" y2="575.40" stroke="#2a2a2a" stroke-width="1.3"/>
<line x1="158.20" y1="575.40" x2="192.30" y2="575.40" stroke="#2a2a2a" stroke-width="1.5"/>
<path d="M141.30,589.00 L141.30,582.00 L158.20,575.40" fill="none" stroke="#2a2a2a" stroke-width="1.5" stroke-linejoin="round"/>
<line x1="141.30" y1="583.30" x2="192.30" y2="583.30" stroke="#2a2a2a" stroke-width="1.5"/>
<line x1="100.40" y1="589.00" x2="192.30" y2="589.00" stroke="#2a2a2a" stroke-width="1.5"/>
<line x1="100.40" y1="613.10" x2="192.30" y2="613.10" stroke="#2a2a2a" stroke-width="1.5"/>
<path d="M163.8,625.2 L192.3,621.8 M163.8,625.2 L192.3,628.4 M172,625.2 L192.3,624 M172,625.2 L192.3,626.4" fill="none" stroke="#2a2a2a" stroke-width="1.2" stroke-linejoin="round"/>
<path d="M164,691.2 L192.3,688 M164,691.2 L192.3,694.5 M172,691.2 L192.3,690 M172,691.2 L192.3,692.4" fill="none" stroke="#2a2a2a" stroke-width="1.2" stroke-linejoin="round"/>
<path d="M141.20,710.50 L141.20,696.40 L192.30,696.40" fill="none" stroke="#2a2a2a" stroke-width="1.5" stroke-linejoin="round"/>
<line x1="141.20" y1="702.80" x2="192.30" y2="702.80" stroke="#2a2a2a" stroke-width="1.5"/>
<path d="M141.20,704.40 L159.20,710.50 L192.30,710.50" fill="none" stroke="#2a2a2a" stroke-width="1.5" stroke-linejoin="round"/>
<line x1="100.40" y1="710.50" x2="141.20" y2="710.50" stroke="#2a2a2a" stroke-width="1.5"/>
<line x1="141.20" y1="710.50" x2="168.90" y2="721.80" stroke="#2a2a2a" stroke-width="1.5"/>
<path d="M168.90,721.80 L170.81,722.30 L171.54,720.47 L173.45,720.97 L174.19,719.14 L176.09,719.64 L176.83,717.81 L178.73,718.31 L179.47,716.49 L181.38,716.98 L182.11,715.16 L184.02,715.65 L184.76,713.83 L186.66,714.33 L187.40,712.50" fill="none" stroke="#2a2a2a" stroke-width="1.2" stroke-linejoin="round"/>
<line x1="187.40" y1="712.50" x2="187.40" y2="710.50" stroke="#2a2a2a" stroke-width="1.3"/>
<rect x="89.70" y="608.30" width="10.70" height="68.40" rx="0" fill="none" stroke="#2a2a2a" stroke-width="1.5"/>
<line x1="89.70" y1="630.40" x2="100.40" y2="630.40" stroke="#2a2a2a" stroke-width="1.4"/>
<path d="M89.7,618.3 L49.5,618.3 Q45,618.9 43,620.4499999999999 Q45,621.9999999999999 49.5,622.5999999999999 L89.7,622.5999999999999" fill="none" stroke="#2a2a2a" stroke-width="1.4" stroke-linejoin="round"/>
<line x1="51.60" y1="618.30" x2="51.60" y2="622.60" stroke="#2a2a2a" stroke-width="1.1"/>
<line x1="81.70" y1="618.30" x2="81.70" y2="622.60" stroke="#2a2a2a" stroke-width="1.1"/>
<path d="M89.7,663.0 L49.5,663.0 Q45,663.6 43,665.15 Q45,666.6999999999999 49.5,667.3 L89.7,667.3" fill="none" stroke="#2a2a2a" stroke-width="1.4" stroke-linejoin="round"/>
<line x1="51.60" y1="663.00" x2="51.60" y2="667.30" stroke="#2a2a2a" stroke-width="1.1"/>
<line x1="81.70" y1="663.00" x2="81.70" y2="667.30" stroke="#2a2a2a" stroke-width="1.1"/>
<line x1="186.90" y1="712.50" x2="186.90" y2="752.40" stroke="#2a2a2a" stroke-width="1.3"/>
<line x1="164.90" y1="745.80" x2="230.10" y2="745.80" stroke="#2a2a2a" stroke-width="1.3"/>
<path d="M186.40,745.80 L174.40,748.00 L174.40,743.60 Z" fill="#2a2a2a"/>
<path d="M192.70,745.80 L204.70,743.60 L204.70,748.00 Z" fill="#2a2a2a"/>
<g transform="translate(217.20,741.80)" fill="none" stroke="#2a2a2a" stroke-width="1.26" stroke-linecap="round" stroke-linejoin="round" class="ns"><path transform="translate(0.000,-14.800) scale(14.800)" d="M0,0 L0,1 L0.22,1 A0.28,0.28 0 0 0 0.5,0.72 L0.5,0.28 A0.28,0.28 0 0 0 0.22,0 Z"/></g>
<line x1="668.00" y1="503.70" x2="668.00" y2="785.00" stroke="#e6e6e6" stroke-width="1.2"/>
<line x1="363.70" y1="785.00" x2="668.00" y2="785.00" stroke="#e6e6e6" stroke-width="1.2"/>
<rect x="425.60" y="518.30" width="232.90" height="183.00" rx="6" fill="none" stroke="#2a2a2a" stroke-width="1.6"/>
<rect x="464.5" y="514.2" width="37.10" height="13.8" fill="#fff" stroke="#2a2a2a" stroke-width="1.6"/>
<rect x="464.5" y="691.9" width="37.10" height="13.7" fill="#fff" stroke="#2a2a2a" stroke-width="1.6"/>
<rect x="582.5" y="514.2" width="37.10" height="13.8" fill="#fff" stroke="#2a2a2a" stroke-width="1.6"/>
<rect x="582.5" y="691.9" width="37.10" height="13.7" fill="#fff" stroke="#2a2a2a" stroke-width="1.6"/>
<line x1="394.60" y1="527.90" x2="619.60" y2="527.90" stroke="#2a2a2a" stroke-width="1.5"/>
<path d="M464.50,528 L464.50,545 L443.50,563.2 Q435.20,570.5 435.20,581 L435.20,677 Q435.20,691.9 450.20,691.9" fill="none" stroke="#2a2a2a" stroke-width="1.6" stroke-linejoin="round"/>
<path d="M501.60,528.00 L501.60,544.30 L509.20,544.30 L513.30,528.00" fill="none" stroke="#2a2a2a" stroke-width="1.5" stroke-linejoin="round"/>
<line x1="501.60" y1="539.00" x2="510.50" y2="539.00" stroke="#2a2a2a" stroke-width="1.3"/>
<path d="M501.90,691.90 L501.90,675.60 L507.80,675.60 L513.70,691.90" fill="none" stroke="#2a2a2a" stroke-width="1.5" stroke-linejoin="round"/>
<line x1="501.90" y1="681.50" x2="506.40" y2="681.50" stroke="#2a2a2a" stroke-width="1.3"/>
<path d="M435.20,585 L431.50,588.7 L435.20,592.4 Z" fill="#2a2a2a"/>
<path d="M435.20,664 L431.50,667.7 L435.20,671.4 Z" fill="#2a2a2a"/>
<path d="M619.60,528 L619.60,545 L640.60,563.2 Q648.90,570.5 648.90,581 L648.90,677 Q648.90,691.9 633.90,691.9" fill="none" stroke="#2a2a2a" stroke-width="1.6" stroke-linejoin="round"/>
<path d="M582.50,528.00 L582.50,544.30 L574.90,544.30 L570.80,528.00" fill="none" stroke="#2a2a2a" stroke-width="1.5" stroke-linejoin="round"/>
<line x1="582.50" y1="539.00" x2="573.60" y2="539.00" stroke="#2a2a2a" stroke-width="1.3"/>
<path d="M582.20,691.90 L582.20,675.60 L576.30,675.60 L570.40,691.90" fill="none" stroke="#2a2a2a" stroke-width="1.5" stroke-linejoin="round"/>
<line x1="582.20" y1="681.50" x2="577.70" y2="681.50" stroke="#2a2a2a" stroke-width="1.3"/>
<path d="M648.90,585 L652.60,588.7 L648.90,592.4 Z" fill="#2a2a2a"/>
<path d="M648.90,664 L652.60,667.7 L648.90,671.4 Z" fill="#2a2a2a"/>
<line x1="394.60" y1="691.90" x2="634.00" y2="691.90" stroke="#2a2a2a" stroke-width="1.5"/>
<line x1="403.20" y1="527.90" x2="403.20" y2="691.90" stroke="#2a2a2a" stroke-width="1.3"/>
<path d="M403.20,528.40 L405.40,540.40 L401.00,540.40 Z" fill="#2a2a2a"/>
<path d="M403.20,691.40 L401.00,679.40 L405.40,679.40 Z" fill="#2a2a2a"/>
<g transform="translate(400.70,656.00) rotate(-90) translate(0.00,0.00)" fill="none" stroke="#2a2a2a" stroke-width="1.67" stroke-linecap="round" stroke-linejoin="round" class="ns"><path transform="translate(0.000,-19.700) scale(19.700)" d="M0.01,0.24 C0.01,0.08 0.12,0 0.25,0 C0.39,0 0.5,0.09 0.5,0.25 C0.5,0.4 0.4,0.5 0,1 L0.5,1"/><path transform="translate(13.739,-19.700) scale(19.700)" d="M0.38,1 L0.38,0 L0,0.72 L0.52,0.72"/><path transform="translate(27.478,-19.700) scale(19.700)" d="M0.08,0.97 L0.08,1"/><path transform="translate(33.955,-19.700) scale(19.700)" d="M0,0 L0.5,0 L0.14,1"/><path transform="translate(47.695,-19.700) scale(19.700)" d="M0.03,0.6 L0.47,0.6 M0.25,0.36 L0.25,0.84 M0.03,0.99 L0.47,0.99"/><path transform="translate(61.434,-19.700) scale(19.700)" d="M0.03,0.5 A0.22,0.5 0 0 1 0.47,0.5 A0.22,0.5 0 0 1 0.03,0.5 Z"/><path transform="translate(75.173,-19.700) scale(19.700)" d="M0.08,0.97 L0.08,1"/><path transform="translate(81.650,-19.700) scale(19.700)" d="M0.01,0.24 C0.01,0.08 0.12,0 0.25,0 C0.39,0 0.5,0.09 0.5,0.25 C0.5,0.4 0.4,0.5 0,1 L0.5,1"/></g>
<circle cx="379.00" cy="678.70" r="12.90" fill="none" stroke="#2a2a2a" stroke-width="1.4"/>
<path d="M375.55,672.64 L377.10,672.64 L377.10,685.56 L375.55,685.56 L375.55,675.41 L374.61,676.33 L371.52,677.81 L371.52,676.15 L374.61,674.49 L375.29,673.38 Z" fill="#2a2a2a" stroke="#2a2a2a" stroke-width="0.3"/>
<text x="0" y="0" transform="translate(383.77,685.56) scale(0.93,1)" font-family="Liberation Sans" font-size="18.45" text-anchor="middle" fill="#2a2a2a" stroke="#2a2a2a" stroke-width="0.3">4</text>
<line x1="435.40" y1="677.00" x2="435.40" y2="743.50" stroke="#2a2a2a" stroke-width="1.3"/>
<line x1="648.70" y1="677.00" x2="648.70" y2="743.50" stroke="#2a2a2a" stroke-width="1.3"/>
<line x1="432.30" y1="668.00" x2="432.30" y2="779.50" stroke="#2a2a2a" stroke-width="1.2"/>
<line x1="651.80" y1="668.00" x2="651.80" y2="779.50" stroke="#2a2a2a" stroke-width="1.2"/>
<line x1="435.20" y1="735.80" x2="648.90" y2="735.80" stroke="#2a2a2a" stroke-width="1.3"/>
<path d="M435.90,735.80 L447.90,733.60 L447.90,738.00 Z" fill="#2a2a2a"/>
<path d="M648.20,735.80 L636.20,738.00 L636.20,733.60 Z" fill="#2a2a2a"/>
<circle cx="482.30" cy="720.20" r="13.50" fill="none" stroke="#2a2a2a" stroke-width="1.4"/>
<path d="M478.69,713.84 L480.31,713.84 L480.31,727.36 L478.69,727.36 L478.69,716.74 L477.70,717.70 L474.47,719.25 L474.47,717.51 L477.70,715.77 L478.42,714.62 Z" fill="#2a2a2a" stroke="#2a2a2a" stroke-width="0.3"/>
<text x="0" y="0" transform="translate(487.29,727.36) scale(0.93,1)" font-family="Liberation Sans" font-size="19.30" text-anchor="middle" fill="#2a2a2a" stroke="#2a2a2a" stroke-width="0.3">5</text>
<g transform="translate(500.20,731.40)" fill="none" stroke="#2a2a2a" stroke-width="1.54" stroke-linecap="round" stroke-linejoin="round" class="ns"><path transform="translate(0.000,-18.100) scale(18.100)" d="M0.02,0 L0.26,0 A0.22,0.225 0 0 1 0.26,0.45 L0.14,0.45 M0.26,0.45 A0.245,0.275 0 0 1 0.26,1 L0.02,1"/><path transform="translate(13.318,-18.100) scale(18.100)" d="M0.01,0.24 C0.01,0.08 0.12,0 0.25,0 C0.39,0 0.5,0.09 0.5,0.25 C0.5,0.4 0.4,0.5 0,1 L0.5,1"/><path transform="translate(26.636,-18.100) scale(18.100)" d="M0.03,0.6 L0.47,0.6 M0.25,0.36 L0.25,0.84 M0.03,0.99 L0.47,0.99"/><path transform="translate(39.954,-18.100) scale(18.100)" d="M0.03,0.5 A0.22,0.5 0 0 1 0.47,0.5 A0.22,0.5 0 0 1 0.03,0.5 Z"/><path transform="translate(53.272,-18.100) scale(18.100)" d="M0.08,0.97 L0.08,1"/><path transform="translate(59.550,-18.100) scale(18.100)" d="M0.01,0.24 C0.01,0.08 0.12,0 0.25,0 C0.39,0 0.5,0.09 0.5,0.25 C0.5,0.4 0.4,0.5 0,1 L0.5,1"/></g>
<line x1="432.30" y1="771.40" x2="651.80" y2="771.40" stroke="#2a2a2a" stroke-width="1.3"/>
<path d="M432.80,771.40 L444.80,769.20 L444.80,773.60 Z" fill="#2a2a2a"/>
<path d="M651.30,771.40 L639.30,773.60 L639.30,769.20 Z" fill="#2a2a2a"/>
<circle cx="501.90" cy="757.00" r="13.50" fill="none" stroke="#2a2a2a" stroke-width="1.4"/>
<path d="M498.29,750.64 L499.91,750.64 L499.91,764.16 L498.29,764.16 L498.29,753.54 L497.30,754.50 L494.07,756.05 L494.07,754.31 L497.30,752.57 L498.02,751.42 Z" fill="#2a2a2a" stroke="#2a2a2a" stroke-width="0.3"/>
<text x="0" y="0" transform="translate(506.89,764.16) scale(0.93,1)" font-family="Liberation Sans" font-size="19.30" text-anchor="middle" fill="#2a2a2a" stroke="#2a2a2a" stroke-width="0.3">6</text>
<g transform="translate(529.30,766.70)" fill="none" stroke="#2a2a2a" stroke-width="1.48" stroke-linecap="round" stroke-linejoin="round" class="ns"><path transform="translate(0.000,-17.400) scale(17.400)" d="M0.02,0 L0.26,0 A0.22,0.225 0 0 1 0.26,0.45 L0.14,0.45 M0.26,0.45 A0.245,0.275 0 0 1 0.26,1 L0.02,1"/><path transform="translate(15.700,-17.400) scale(17.400)" d="M0.02,0 L0.26,0 A0.22,0.225 0 0 1 0.26,0.45 L0.14,0.45 M0.26,0.45 A0.245,0.275 0 0 1 0.26,1 L0.02,1"/></g>
<path d="M497.97,569 L586.13,569 Q591.10,569 594.61,572.51 L614.59,592.49 Q618.10,596 618.10,600.97 L618.10,637 A13.7,13.7 0 0 1 604.40,650.7 L479.70,650.7 A13.7,13.7 0 0 1 466,637 L466,600.97 Q466,596 469.51,592.49 L489.49,572.51 Q493,569 497.97,569 Z" fill="none" stroke="#2a2a2a" stroke-width="1.6" stroke-linejoin="round"/>
<path d="M477.50,594.60 L495.60,575.60 L511.20,575.60 L511.20,594.60 Z" fill="none" stroke="#2a2a2a" stroke-width="2.6" stroke-linejoin="round"/>
<path d="M606.60,594.60 L588.50,575.60 L572.90,575.60 L572.90,594.60 Z" fill="none" stroke="#2a2a2a" stroke-width="2.6" stroke-linejoin="round"/>
<path d="M524.7,650.7 L524.7,625 Q524.7,622.3 527.4,622.3 L556.1,622.3 Q558.8,622.3 558.8,625 L558.8,650.7" fill="none" stroke="#2a2a2a" stroke-width="1.6" stroke-linejoin="round"/>
<defs><g id="ct"><rect x="476.3" y="605.3" width="38.50" height="28.5" fill="#fff" stroke="#2a2a2a" stroke-width="2"/><rect x="497" y="606.3" width="6.9" height="9.7" fill="#8a8a8a"/><path d="M476.3,616 L514.8,616" stroke="#2a2a2a" stroke-width="1.9"/><path d="M489.3,605.3 L489.3,616" stroke="#2a2a2a" stroke-width="1.7"/><path d="M491.7,605.3 L491.7,616" stroke="#2a2a2a" stroke-width="1.0"/><path d="M497,605.3 L497,616" stroke="#2a2a2a" stroke-width="1.6"/><path d="M503.9,605.3 L503.9,616" stroke="#2a2a2a" stroke-width="1.3"/><path d="M482.8,616 L482.8,633.8" stroke="#2a2a2a" stroke-width="1.5"/><path d="M490.2,616 L490.2,633.8" stroke="#2a2a2a" stroke-width="1.7"/><path d="M501.5,616 L501.5,633.8" stroke="#2a2a2a" stroke-width="1.7"/><path d="M508.9,616 L508.9,633.8" stroke="#2a2a2a" stroke-width="1.5"/><rect x="477.3" y="617" width="5.5" height="3" fill="#777"/><rect x="508.79999999999995" y="617" width="5" height="3" fill="#777"/><path d="M482.8,626.5 L488.8,633.8 M508.9,626.5 L502.9,633.8" stroke="#2a2a2a" stroke-width="1.4"/><rect x="471.3" y="630.5" width="48.3" height="13.1" fill="#fff" stroke="#2a2a2a" stroke-width="2"/><rect x="472.5" y="634" width="45.9" height="6.2" fill="#2a2a2a"/><rect x="476.5" y="635" width="4" height="3.8" fill="#fff"/><rect x="510.5" y="635" width="4.5" height="3.8" fill="#fff"/><rect x="484" y="636.3" width="24" height="1.2" fill="#777"/><rect x="473.5" y="640.6" width="44" height="1.6" fill="#bbb"/></g></defs>
<use href="#ct"/>
<use href="#ct" transform="translate(1084.1,0) scale(-1,1)"/>
<use href="#ct" transform="translate(46.25,1219.5) scale(1,-1)"/>
<path d="M443.9,611.4 L447.9,611.4 L447.9,628.9 L460.2,628.9 L460.2,632.8 L443.9,632.8 Z" fill="#c2c2c2" stroke="#2a2a2a" stroke-width="1.4" stroke-linejoin="round"/>
<path d="M623.1,611.4 L627.6,611.4 L637.7,626.8 L637.7,611.4 L641.4,611.4 L641.4,632.8 L636.9,632.8 L626.8,617.4 L626.8,632.8 L623.1,632.8 Z" fill="#c2c2c2" stroke="#2a2a2a" stroke-width="1.4" stroke-linejoin="round"/>
<path d="M520.6,528.9 L536.9,528.9 L536.9,532.5 L524.8,532.5 L524.8,537.4 L534.9,537.4 L534.9,540.8 L524.8,540.8 L524.8,545.9 L536.9,545.9 L536.9,549.7 L520.6,549.7 Z" fill="#c2c2c2" stroke="#2a2a2a" stroke-width="1.3" stroke-linejoin="round"/>
<circle cx="549.65" cy="539.20" r="9.20" fill="none" stroke="#2a2a2a" stroke-width="2.1"/>
<path d="M549.7,530.5 L549.7,539 M542.9,539 L556.3,539 M544.6,542.4 L554.6,542.4" fill="none" stroke="#2a2a2a" stroke-width="1.7" stroke-linejoin="round"/>
<path d="M545.5,544.3 L553.8,544.3 L552.5,547.8 L546.8,547.8 Z" fill="#2a2a2a"/>
<text x="0" y="0" transform="translate(489.8,564.9)" font-family="Liberation Sans" font-weight="bold" font-style="italic" font-size="17.6" textLength="106" lengthAdjust="spacingAndGlyphs" fill="#f4f4f4" stroke="#1e1e1e" stroke-width="1.5">CHINEHOW</text>
<text x="0" y="0" transform="translate(504.0,668.8) scale(0.95,1)" font-family="Liberation Sans" font-weight="bold" font-size="18.3" fill="#1e1e1e" stroke="#1e1e1e" stroke-width="0.9">CSK-B15</text>
<text x="0" y="0" transform="translate(586.5,668.1) scale(0.98,1)" font-family="Liberation Sans" font-weight="bold" font-size="13.4" fill="#1e1e1e" stroke="#1e1e1e" stroke-width="0.9">15A250V-</text>
<path d="M454.5,568 L462.6,581.5 L446.3,581.5 Z" fill="#2a2a2a"/>
<text x="0" y="0" transform="translate(445.3,591) scale(0.9,1)" font-family="Liberation Sans" font-weight="bold" font-size="10.5" fill="#1e1e1e">TÜV</text>
<path d="M448.72,657.83 449.62,657.16 469.52,657.16 474.21,672.58 473.32,673.26 462.36,673.26 459.90,667.67 458.34,673.26 453.42,673.26 454.76,667.22 451.18,667.22 Z M453.42,660.73 458.78,660.73 459.23,662.97 454.09,663.42 Z M465.04,658.50 467.73,658.50 469.07,668.34 466.83,668.34 Z" fill="#fff" stroke="#1e1e1e" stroke-width="1.6" stroke-linejoin="round"/>
<path d="M448.6,667.6 A2.2,3.4 0 1 0 448.6,672.0" fill="none" stroke="#1e1e1e" stroke-width="2"/>
<rect x="476" y="666.3" width="7.5" height="7.2" fill="#1e1e1e"/></svg></body></html>
